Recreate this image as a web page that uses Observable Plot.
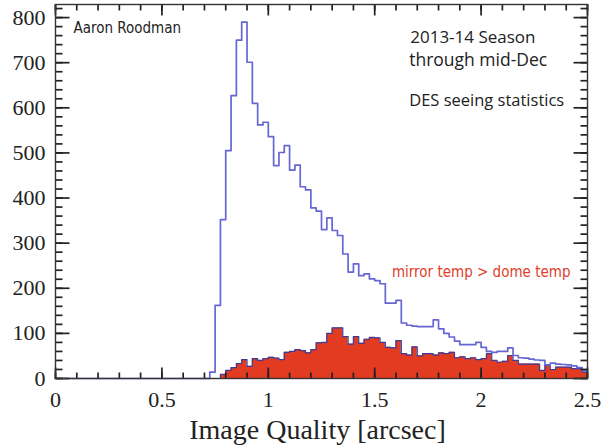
<!DOCTYPE html>
<html>
<head>
<meta charset="utf-8">
<script src="https://cdn.jsdelivr.net/npm/d3@7"></script>
<script src="https://cdn.jsdelivr.net/npm/@observablehq/plot@0.6"></script>
<style>
  html, body { margin: 0; padding: 0; background: #fff; }
  #chart { width: 604px; height: 447px; }
</style>
</head>
<body>
<div id="chart"></div>
<script>
// ---- Data ----
const binWidth = 0.025;            // arcsec per histogram bin
const allStart = 0.725;            // first non-empty bin of the full sample
const allCounts = [
  14, 162, 352, 505, 627, 750, 790, 701, 610, 562,
  568, 536, 472, 501, 516, 462, 473, 425, 418, 378,
  371, 330, 356, 328, 317, 276, 236, 254, 228, 232,
  221, 217, 210, 167, 167, 173, 123, 118, 116, 115,
  115, 115, 130, 110, 100, 92, 83, 75, 75, 75,
  80, 69, 60, 58, 60, 60, 68, 51, 46, 45,
  43, 41, 40, 30, 34, 32, 31, 30, 28, 24,
  18
];
const warmStart = 0.775;           // first non-empty bin of "mirror temp > dome temp"
const warmCounts = [
  9, 18, 24, 33, 42, 27, 44, 40, 44, 47,
  45, 42, 58, 60, 64, 62, 57, 64, 79, 80,
  100, 112, 112, 93, 76, 93, 78, 87, 91, 90,
  80, 69, 68, 84, 55, 52, 70, 50, 55, 55,
  52, 57, 55, 58, 46, 48, 44, 46, 42, 44,
  55, 40, 36, 38, 51, 40, 32, 32, 32, 32,
  18, 29, 20, 25, 25, 25, 22, 22, 14
];
const xMajorTicks = [0, 0.5, 1, 1.5, 2, 2.5];
const xMinorTicks = [0, 0.1, 0.2, 0.3, 0.4, 0.5, 0.6, 0.7, 0.8, 0.9, 1, 1.1, 1.2, 1.3, 1.4, 1.5, 1.6, 1.7, 1.8, 1.9, 2, 2.1, 2.2, 2.3, 2.4, 2.5];
const yMajorTicks = [0, 100, 200, 300, 400, 500, 600, 700, 800];
const yMinorTicks = [0, 20, 40, 60, 80, 100, 120, 140, 160, 180, 200, 220, 240, 260, 280, 300, 320, 340, 360, 380, 400, 420, 440, 460, 480, 500, 520, 540, 560, 580, 600, 620, 640, 660, 680, 700, 720, 740, 760, 780, 800, 820];
const xTitle = "Image Quality [arcsec]";
const authorNote = ["Aaron Roodman"];
const seasonNote = ["2013-14 Season"];
const periodNote = ["through mid-Dec"];
const statsNote = ["DES seeing statistics"];
const warmNote = ["mirror temp > dome temp"];

// ---- Build step tables from the bins ----
function stepPoints(start, counts, lead) {
  const pts = counts.map((c, i) => ({x: start + i * binWidth, y: c}));
  pts.push({x: start + counts.length * binWidth, y: counts[counts.length - 1]});
  return lead ? [lead, ...pts] : pts;
}
const allPts = stepPoints(allStart, allCounts, {x: 0, y: 0});
const warmPts = stepPoints(warmStart, warmCounts, null);
const warmLine = [{x: warmStart, y: 0}, ...warmPts];

const W = 604, H = 447, ML = 55, MR = 17, MT = 4, MB = 69;
const xDomain = [0, 2.5], yDomain = [0, 829];
const pxX = (xDomain[1] - xDomain[0]) / (W - ML - MR);  // data units per pixel
const pxY = (yDomain[1] - yDomain[0]) / (H - MT - MB);

const blue = "#6666d4";
const red = "#e33b22";
const serif = "Liberation Serif, Times New Roman, serif";
const cond = "DejaVu Sans Condensed, sans-serif";
const human = "Open Sans, Lato, sans-serif";
const tickStroke = "#222";

// inward tick marks drawn as short link segments
const xTickSegs = [
  ...xMinorTicks.map(v => ({x1: v, x2: v, y1: yDomain[0], y2: yDomain[0] + 6 * pxY})),
  ...xMinorTicks.map(v => ({x1: v, x2: v, y1: yDomain[1], y2: yDomain[1] - 6 * pxY})),
  ...xMajorTicks.map(v => ({x1: v, x2: v, y1: yDomain[0], y2: yDomain[0] + 11 * pxY})),
  ...xMajorTicks.map(v => ({x1: v, x2: v, y1: yDomain[1], y2: yDomain[1] - 11 * pxY}))
];
const yTickSegs = [
  ...yMinorTicks.map(v => ({y1: v, y2: v, x1: xDomain[0], x2: xDomain[0] + 7 * pxX})),
  ...yMinorTicks.map(v => ({y1: v, y2: v, x1: xDomain[1], x2: xDomain[1] - 7 * pxX})),
  ...yMajorTicks.map(v => ({y1: v, y2: v, x1: xDomain[0], x2: xDomain[0] + 14 * pxX})),
  ...yMajorTicks.map(v => ({y1: v, y2: v, x1: xDomain[1], x2: xDomain[1] - 14 * pxX}))
];

const chart = Plot.plot({
  width: W,
  height: H,
  marginLeft: ML,
  marginRight: MR,
  marginTop: MT,
  marginBottom: MB,
  style: {background: "#fff", fontFamily: serif, color: "#222", overflow: "visible"},
  x: {domain: xDomain, axis: null},
  y: {domain: yDomain, axis: null},
  marks: [
    Plot.areaY(warmPts, {x: "x", y: "y", curve: "step-after", fill: red}),
    Plot.lineY(warmLine, {x: "x", y: "y", curve: "step-after", stroke: "#3b3b98", strokeWidth: 1.2}),
    Plot.lineY(allPts, {x: "x", y: "y", curve: "step-after", stroke: blue, strokeWidth: 1.7}),
    Plot.link(xTickSegs, {x1: "x1", x2: "x2", y1: "y1", y2: "y2", stroke: tickStroke, strokeWidth: 1.7}),
    Plot.link(yTickSegs, {x1: "x1", x2: "x2", y1: "y1", y2: "y2", stroke: tickStroke, strokeWidth: 1.7}),
    // tick labels
    Plot.axisX(xMajorTicks, {anchor: "bottom", tickSize: 0, tickPadding: 13, fontSize: 22, fontFamily: serif, label: null, fill: "#222", tickFormat: d => String(d)}),
    Plot.axisY(yMajorTicks, {anchor: "left", tickSize: 0, tickPadding: 10, fontSize: 22, fontFamily: serif, label: null, fill: "#222", tickFormat: d => String(d)}),
    Plot.frame({stroke: "#333", strokeWidth: 1.4}),
    // axis title
    Plot.text([xTitle], {frameAnchor: "bottom", dy: 60, dx: -4, lineAnchor: "bottom", fontSize: 28, fontFamily: serif, fill: "#222", text: d => d}),
    // annotations
    Plot.text(authorNote, {x: 0.0845, y: 765, text: d => d, textAnchor: "start", lineAnchor: "bottom", fontSize: 15, fontFamily: cond, fill: "#222"}),
    Plot.text(seasonNote, {x: 1.667, y: 743, text: d => d, textAnchor: "start", lineAnchor: "bottom", fontSize: 17, fontFamily: human, fill: "#222"}),
    Plot.text(periodNote, {x: 1.662, y: 692, text: d => d, textAnchor: "start", lineAnchor: "bottom", fontSize: 17.5, fontFamily: human, fill: "#222"}),
    Plot.text(statsNote, {x: 1.662, y: 605, text: d => d, textAnchor: "start", lineAnchor: "bottom", fontSize: 16.5, fontFamily: human, fill: "#222"}),
    Plot.text(warmNote, {x: 1.581, y: 224, text: d => d, textAnchor: "start", lineAnchor: "bottom", fontSize: 15, fontFamily: cond, fill: "#e0402a"})
  ]
});
document.getElementById("chart").appendChild(chart);
</script>
</body>
</html>
